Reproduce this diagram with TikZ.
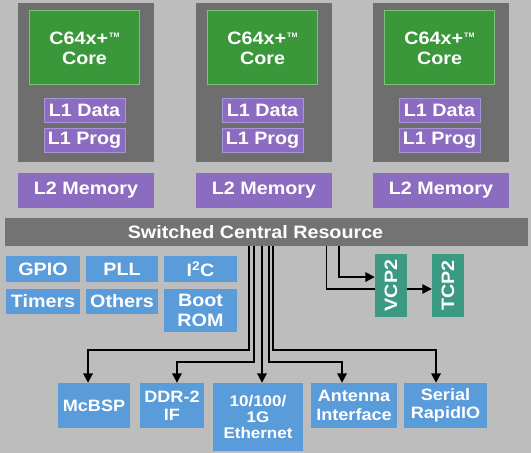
\documentclass[tikz,border=0pt]{standalone}
\usepackage{fontspec}
\newfontfamily\dspfont{Liberation Sans}[FakeStretch=1.1]
\usetikzlibrary{arrows.meta}
\definecolor{ChipBg}{HTML}{BDBDBD}
\definecolor{CoreGray}{HTML}{6E6E6E}
\definecolor{BusGray}{HTML}{737373}
\definecolor{CpuGreen}{HTML}{3A983A}
\definecolor{CpuEdge}{HTML}{7CC07C}
\definecolor{MemPurple}{HTML}{8C6CC0}
\definecolor{MemEdge}{HTML}{AA94D8}
\definecolor{PerBlue}{HTML}{5A9BDA}
\definecolor{CoTeal}{HTML}{3A9A84}
\newcommand{\tmark}{\raisebox{6.5bp}{\fontsize{6.5}{6.5}\selectfont\,TM}}

\begin{document}
\begin{tikzpicture}[
  x=1bp, y=-1bp,
  box/.style={inner sep=0pt, text=white, align=center,
    font=\dspfont\bfseries\fontsize{18}{20}\selectfont},
  core/.style={box, fill=CoreGray, minimum width=136bp, minimum height=159bp},
  cpu/.style={box, fill=CpuGreen, draw=CpuEdge, line width=1bp,
    minimum width=110bp, minimum height=74bp},
  lone/.style={box, fill=MemPurple, draw=MemEdge, line width=1bp,
    minimum width=81bp, minimum height=24bp},
  ltwo/.style={box, fill=MemPurple, minimum width=136bp, minimum height=35bp},
  periph/.style={box, fill=PerBlue},
  ioport/.style={periph, minimum height=45bp,
    font=\dspfont\bfseries\fontsize{16.5}{18.5}\selectfont},
  copro/.style={box, fill=CoTeal, minimum width=32bp, minimum height=63bp},
  bus/.style={line width=1.9bp},
  busarrow/.style={bus, -{Triangle[length=9.5bp,width=9.5bp]}}
]
\fill[ChipBg] (0,0) rectangle (531,453);
\useasboundingbox (0,0) rectangle (531,453);

\foreach \i/\x in {1/86,2/264,3/441} {
  \node[core] (core\i) at (\x,82.5) {};
  \node[cpu] (cpu\i) at (\x-1.5,48) {C64x+\tmark\\Core};
  \node[lone] (lda\i) at (\x-1.5,110.5) {L1 Data};
  \node[lone] (lpr\i) at (\x-1.5,140.5) {L1 Prog};
  \node[ltwo] (ltwo\i) at (\x,190.5) {L2 Memory};
}

\node[box, fill=BusGray, minimum width=523bp, minimum height=28bp] (scr) at (266.5,232) {};
\node[box] (scrtext) at (255.5,232) {Switched Central Resource};

\node[periph, minimum width=74bp, minimum height=26bp] (gpio) at (43,269) {GPIO};
\node[periph, minimum width=72bp, minimum height=26bp] (pll) at (122,269) {PLL};
\node[periph, minimum width=73bp, minimum height=26bp] (iic) at (200.5,269) {I\textsuperscript{2}C};
\node[periph, minimum width=74bp, minimum height=25bp] (timers) at (43,301.5) {Timers};
\node[periph, minimum width=72bp, minimum height=25bp] (others) at (122,301.5) {Others};
\node[periph, minimum width=73bp, minimum height=43bp] (bootrom) at (200.5,310.5) {Boot\\ROM};

\node[copro] (vcp) at (391,285.5) {\rotatebox{90}{VCP2}};
\node[copro] (tcp) at (448,285.5) {\rotatebox{90}{TCP2}};

\node[ioport, minimum width=72bp] (mcbsp) at (94,405.5) {McBSP};
\node[ioport, minimum width=64bp] (ddr) at (172,405.5) {DDR-2\\IF};
\node[ioport, minimum width=90bp, minimum height=68bp,
  font=\dspfont\bfseries\fontsize{15.5}{16.5}\selectfont] (eth) at (258,417) {10/100/\\1G\\Ethernet};
\node[ioport, minimum width=86bp] (antenna) at (354,405.5) {Antenna\\Interface};
\node[ioport, minimum width=83bp] (srio) at (445.5,405.5) {Serial\\RapidIO};

\draw[busarrow] ([xshift=-17.5]scr.south) -- ++(0,104) -| ([xshift=-6]mcbsp.north);
\draw[busarrow] ([xshift=-12.5]scr.south) -- ++(0,116) -| ([xshift=5]ddr.north);
\draw[busarrow] ([xshift=-4.5]scr.south) -- ([xshift=4]eth.north);
\draw[busarrow] ([xshift=2.5]scr.south) -- ++(0,116) -| ([xshift=-12]antenna.north);
\draw[busarrow] ([xshift=6.5]scr.south) -- ++(0,104) -| ([xshift=-9.5]srio.north);

\draw[busarrow] ([xshift=72.5]scr.south) |- ([yshift=8.5]vcp.west);
\draw[line width=1.2bp] ([xshift=60.5]scr.south) |- ([yshift=-3.5]vcp.west);
\draw[busarrow, line width=1.2bp] ([yshift=-3.5]vcp.east) -- ([yshift=-3.5]tcp.west);
\end{tikzpicture}
\end{document}
